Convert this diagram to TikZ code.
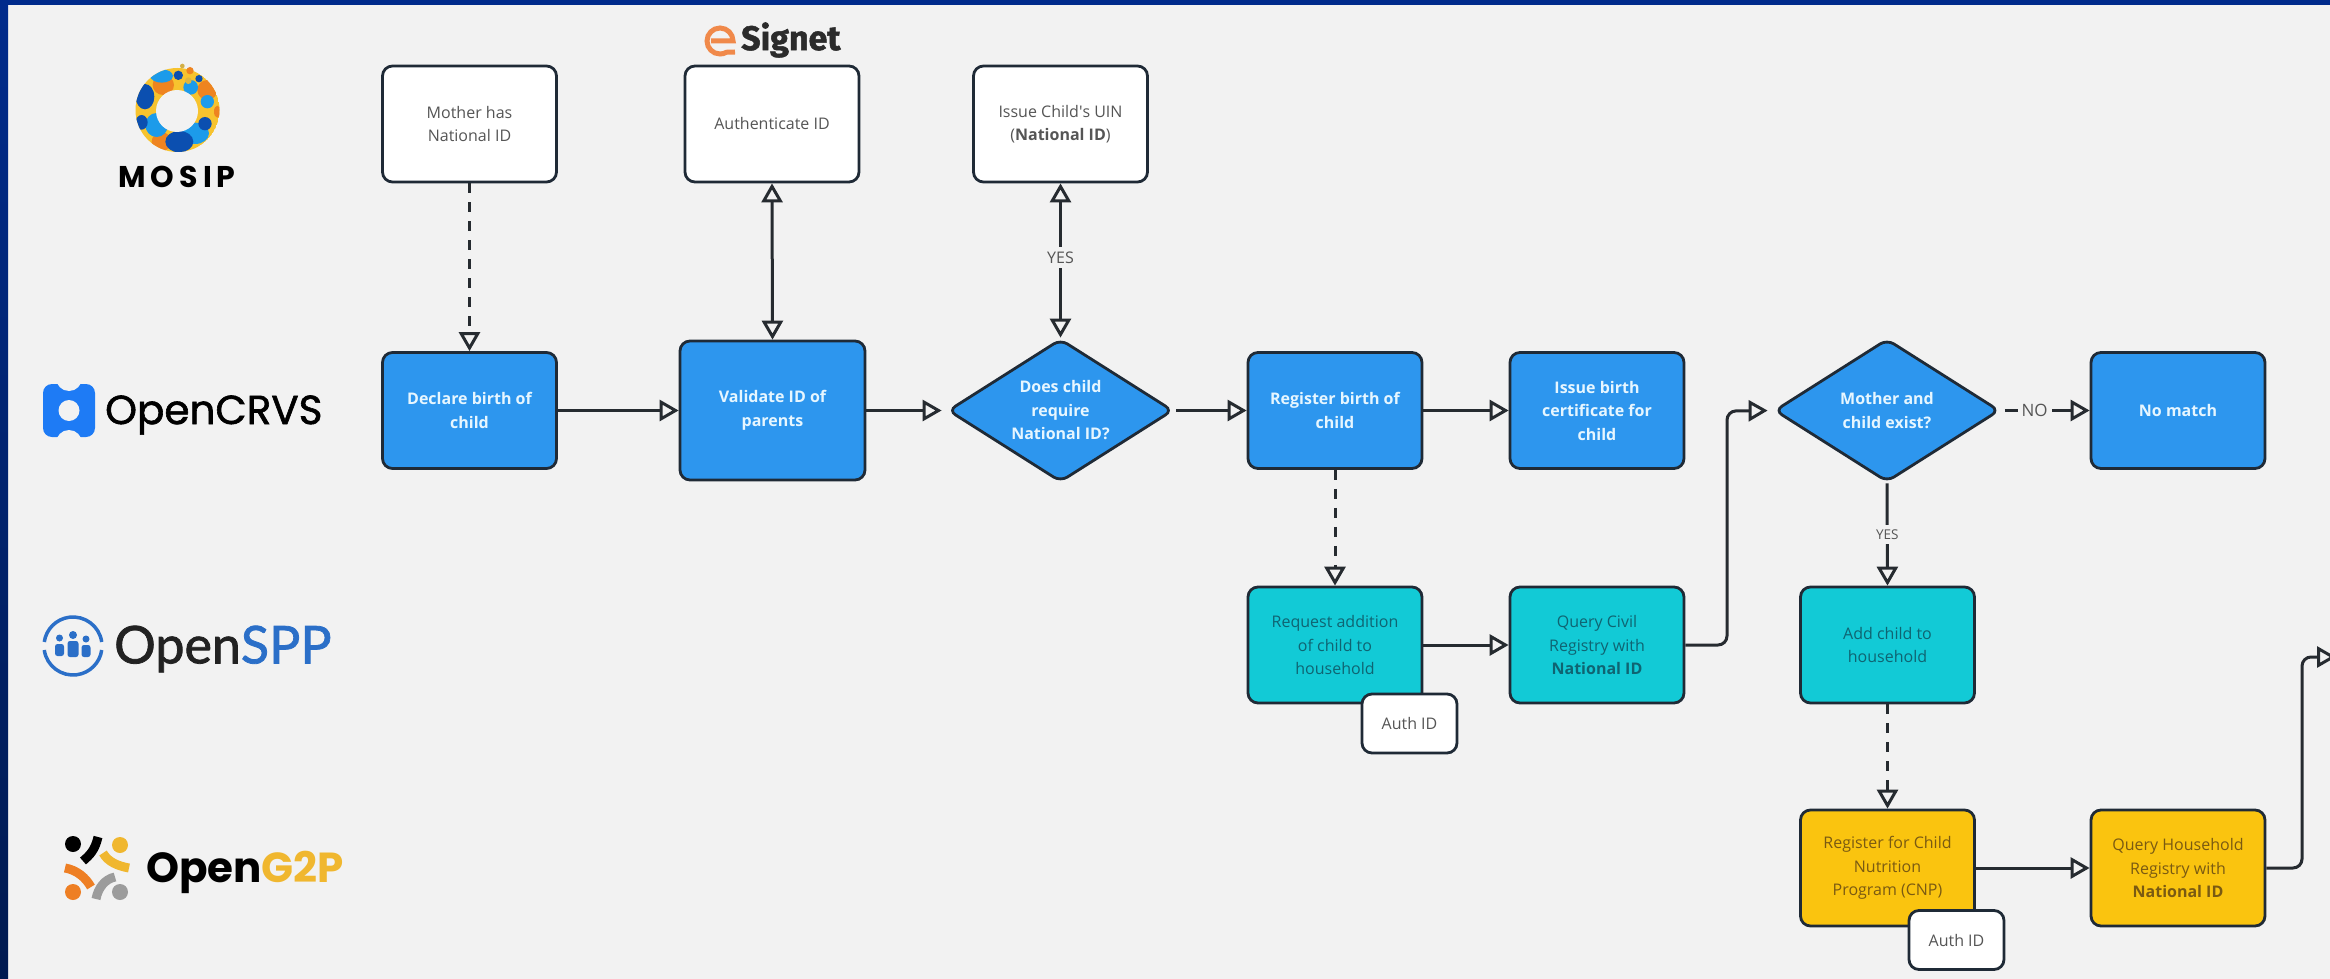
\documentclass[tikz,border=0pt]{standalone}
\usepackage{fontspec}
\setmainfont{Open Sans}
\newfontfamily\popfont{Poppins}
\newfontfamily\popmed[FakeBold=1.5]{Poppins}
\newfontfamily\latofont[FakeBold=1.5]{Lato}
\newfontfamily\firafont[FakeBold=1.5]{Fira Sans}
\usetikzlibrary{arrows.meta,shapes.geometric,calc}
\definecolor{bgc}{HTML}{F2F2F2}
\definecolor{navy}{HTML}{002B8C}
\definecolor{navyd}{HTML}{001A50}
\definecolor{edgec}{HTML}{1F2A36}
\definecolor{linec}{HTML}{262B30}
\definecolor{bluef}{HTML}{2D96EE}
\definecolor{tealf}{HTML}{12CAD6}
\definecolor{yellf}{HTML}{FAC40F}
\definecolor{bluet}{HTML}{E6F6FF}
\definecolor{tealt}{HTML}{0F6472}
\definecolor{yellt}{HTML}{7A5A12}
\definecolor{greyt}{HTML}{555555}
\definecolor{mdb}{HTML}{0B4FB0}
\definecolor{mlb}{HTML}{1C9BEA}
\definecolor{mor}{HTML}{EE8420}
\definecolor{myl}{HTML}{F7C32E}
\definecolor{crvs}{HTML}{1E7BF5}
\definecolor{sppb}{HTML}{2B6FC8}
\definecolor{g2py}{HTML}{F0B72F}
\definecolor{g2po}{HTML}{EE7F24}
\definecolor{g2pg}{HTML}{9C9C9C}
\definecolor{sigo}{HTML}{F0894A}
\tikzset{
  box/.style={rectangle,rounded corners=10pt,draw=edgec,line width=2.8pt,inner sep=0pt,align=center,
    minimum width=174pt,minimum height=116pt,font=\fontsize{16}{23.5}\selectfont},
  whitebox/.style={box,fill=white,text=greyt},
  bluebox/.style={box,fill=bluef,text=bluet,font=\fontsize{16}{23.5}\selectfont\bfseries},
  tealbox/.style={box,fill=tealf,text=tealt},
  yellbox/.style={box,fill=yellf,text=yellt},
  authbox/.style={whitebox,minimum width=95pt,minimum height=59pt},
  decision/.style={diamond,rounded corners=8pt,draw=edgec,line width=2.8pt,inner sep=0pt,align=center,
    fill=bluef,text=bluet,minimum width=225pt,minimum height=143pt,aspect=1.6,
    font=\fontsize{16}{23.5}\selectfont\bfseries},
  tip/.tip={Triangle[open,length=19pt,width=21pt,line width=3pt]},
  conn/.style={draw=linec,line width=3pt,-tip},
  both/.style={draw=linec,line width=3pt,tip-tip},
  dashconn/.style={conn,dash pattern=on 10pt off 9pt},
  lbl/.style={fill=bgc,inner xsep=4pt,inner ysep=5pt,text=greyt,font=\fontsize{16}{18}\selectfont},
  logotext/.style={anchor=west,inner sep=0pt},
}
\newcommand{\mblob}[5]{\fill[#1] ({120+#2/3},{50+#3/3}) ellipse [x radius={#4/3*1pt},y radius={#5/3*1pt}];}
\begin{document}
\begin{tikzpicture}[x=1pt,y=-1pt]
\useasboundingbox (0,0) rectangle (2330,979);
\fill[bgc] (0,0) rectangle (2330,979);
\shade[top color=navy,bottom color=navyd] (0,0) rectangle (8,979);
\fill[navy] (0,0) rectangle (2330,5);

% MOSIP logo
\begin{scope}
\clip (177.5,110) circle [radius=42pt];
\fill[myl] (177.5,110) circle [radius=42pt];
\mblob{mor}{130}{105}{32}{30}
\mblob{mor}{262}{120}{30}{30}
\mblob{mor}{125}{275}{30}{28}
\mblob{mor}{292}{185}{10}{18}
\mblob{mlb}{125}{78}{34}{20}
\mblob{mlb}{110}{225}{34}{36}
\mblob{mlb}{225}{250}{42}{32}
\mblob{mlb}{212}{112}{22}{22}
\mblob{mlb}{262}{155}{20}{20}
\mblob{mdb}{75}{140}{28}{38}
\mblob{mdb}{65}{217}{18}{22}
\mblob{mdb}{178}{275}{42}{32}
\mblob{mdb}{255}{221}{20}{20}
\end{scope}
\fill[bgc] (177,111) circle [radius=21pt];
\mblob{myl!70!gray}{187}{48}{7}{7}
\mblob{mor}{210}{62}{11}{11}
\mblob{mdb}{175}{76}{14}{14}
\mblob{mdb}{237}{86}{11}{11}
\mblob{myl!80!gray}{205}{92}{10}{10}
\node[logotext,anchor=center,text=black] (mosiplogo) at (177,177)
  {\popfont\bfseries\fontsize{30}{31}\selectfont M\kern5pt O\kern5pt S\kern5pt I\kern5pt P};

% OpenCRVS logo
\fill[crvs,rounded corners=9pt] (43,384) rectangle (95,437);
\fill[bgc] (69,378) circle [radius=13pt];
\fill[bgc] (69,443) circle [radius=13pt];
\fill[bgc] (69,410.5) circle [radius=10.5pt];
\node[logotext,text=black] (crvslogo) at (105,415)
  {\popmed\fontsize{40.5}{42}\selectfont OpenCRVS};

% OpenSPP logo
\draw[sppb,line width=3.5pt] (73,646) ++(8:29pt) arc[start angle=8,end angle=172,radius=29pt];
\draw[sppb,line width=3.5pt] (73,646) ++(188:29pt) arc[start angle=188,end angle=352,radius=29pt];
\fill[sppb] (59.5,638) circle [radius=3.5pt] (73,635) circle [radius=4pt] (86,639) circle [radius=3.5pt];
\fill[sppb,rounded corners=2.5pt] (55,644) rectangle (64,656);
\fill[sppb,rounded corners=2.5pt] (67.5,641) rectangle (78.5,657);
\fill[sppb,rounded corners=2.5pt] (81.5,645) rectangle (90.5,657);
\node[logotext] (spplogo) at (114,649)
  {\latofont\fontsize{52}{54}\selectfont\textcolor[HTML]{222222}{Open}\textcolor{sppb}{SPP}};

% OpenG2P logo
\fill[black] (73,844) circle [radius=8pt];
\draw[black,line width=9pt] (98,837) .. controls (95,850) and (90,855) .. (83,861);
\fill[g2py] (120,845) circle [radius=8pt];
\draw[g2py,line width=9pt] (103,853) .. controls (108,862) and (118,866) .. (129,868);
\draw[g2po,line width=9pt] (65,868) .. controls (77,870) and (86,878) .. (91,887);
\fill[g2po] (73,892) circle [radius=8pt];
\draw[g2pg,line width=9pt] (115,877) .. controls (105,879) and (98,888) .. (96,899);
\fill[g2pg] (120,892) circle [radius=8pt];
\node[logotext] (g2plogo) at (146,872)
  {\popfont\bfseries\fontsize{42}{44}\selectfont\textcolor{black}{Open}\textcolor{g2py}{G2P}};

% Signet logo
\draw[sigo,line width=5pt] (711,41) -- (733,41) arc[start angle=0,end angle=300,radius=13pt] -- (735,52);
\node[logotext,text={rgb,255:red,43;green,43;blue,43}] (signetlogo) at (741,40)
  {\firafont\bfseries\fontsize{34}{36}\selectfont Signet};

% Boxes
\node[whitebox] (mother) at (469.5,124) {Mother has\\National ID};
\node[whitebox] (auth) at (772,124) {Authenticate ID};
\node[whitebox] (uin) at (1060.5,124) {Issue Child\textquotesingle s UIN\\(\textbf{National ID})};
\node[bluebox] (declare) at (469.5,410.5) {Declare birth of\\child};
\node[bluebox,minimum width=185pt,minimum height=139pt] (validate) at (772.5,410.5) {Validate ID of\\parents};
\node[decision] (d1) at (1060.5,410.5) {Does child\\require\\National ID?};
\node[bluebox] (register) at (1335,410.5) {Register birth of\\child};
\node[bluebox] (issue) at (1597,410.5) {Issue birth\\certificate for\\child};
\node[decision] (d2) at (1887,410.5) {Mother and\\child exist?};
\node[bluebox] (nomatch) at (2178,410.5) {No match};
\node[tealbox] (request) at (1335,645) {Request addition\\of child to\\household};
\node[tealbox] (qcivil) at (1597,645) {Query Civil\\Registry with\\\textbf{National ID}};
\node[tealbox] (addchild) at (1887.5,645) {Add child to\\household};
\node[yellbox] (cnp) at (1887.5,868) {Register for Child\\Nutrition\\Program (CNP)};
\node[yellbox] (qhouse) at (2178,868) {Query Household\\Registry with\\\textbf{National ID}};
\node[authbox] (auth1) at (1409.5,723.5) {Auth ID};
\node[authbox] (auth2) at (1956.5,940) {Auth ID};

\coordinate (c1) at (1727,411);
\coordinate (c2) at (2302,657);
\coordinate (c3) at (2336,657);

% Connectors
\draw[dashconn] (mother.south) -- (declare.north);
\draw[both] (auth.south) -- (validate.north);
\draw[both] (uin.south) -- node[lbl,pos=0.48] (yes1) {YES} (d1.north);
\draw[conn] (declare.east) -- (validate.west);
\draw[conn,shorten >=5pt] (validate.east) -- (d1.west);
\draw[conn,shorten <=2pt] (d1.east) -- (register.west);
\draw[conn] (register.east) -- (issue.west);
\draw[dashconn] (register.south) -- (request.north);
\draw[conn] (request.east) -- (qcivil.west);
\draw[conn,rounded corners=9pt,shorten >=5.5pt] (qcivil.east) -| (c1) -- (d2.west);
\draw[conn,shorten <=4pt] (d2.east) -- node[lbl,pos=0.38,font=\fontsize{17}{18}\selectfont] (no1) {NO} (nomatch.west);
\draw[conn] (d2.south) -- node[lbl,font=\fontsize{13.5}{15}\selectfont] (yes2) {YES} (addchild.north);
\draw[dashconn] (addchild.south) -- (cnp.north);
\draw[conn] (cnp.east) -- (qhouse.west);
\draw[conn,rounded corners=9pt] (qhouse.east) -| (c2) -- (c3);
\end{tikzpicture}
\end{document}
